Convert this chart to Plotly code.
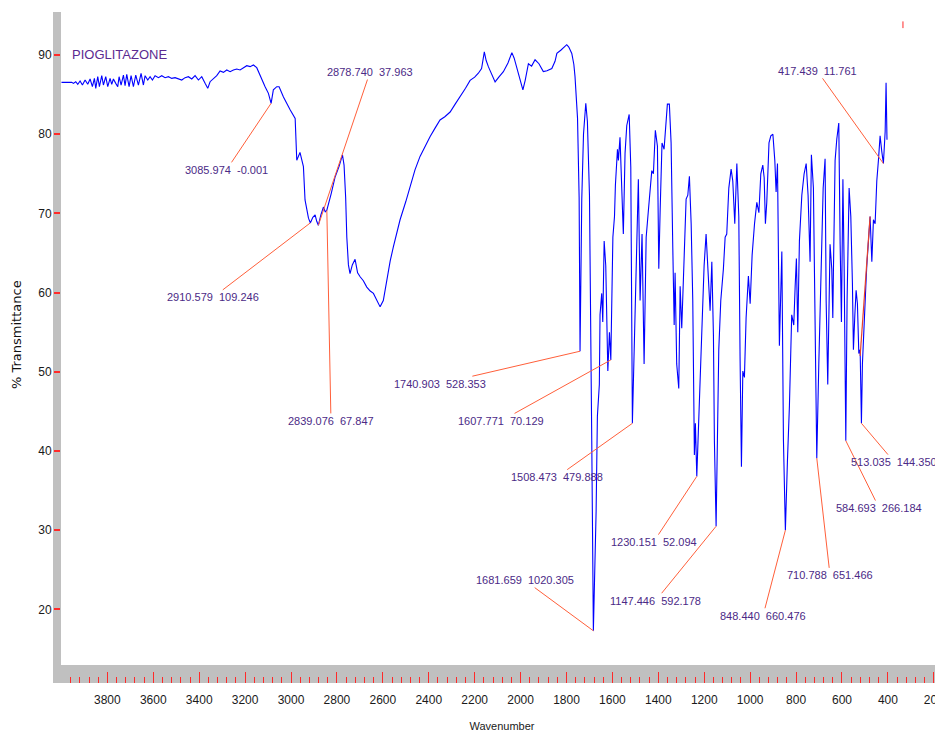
import numpy as np
import plotly.graph_objects as go

# ---------------- data ----------------
WAVENUMBER = [
    4000, 3998.8, 3955, 3948, 3937.8, 3929, 3918.9, 3908.7, 3897, 3885.5, 3875.3, 3865.2, 3856.5,
    3850.6, 3841.9, 3834.7, 3824.5, 3817.2, 3807.1, 3798.4, 3788.2, 3781, 3773.7, 3763.5, 3754.8,
    3749, 3740.3, 3730.1, 3722.9, 3715.6, 3705.4, 3696.7, 3686.6, 3676.4, 3664.8, 3653.2, 3643,
    3635.7, 3624.1, 3613.9, 3603.8, 3592.2, 3577.6, 3563.1, 3548.6, 3534.1, 3519.6, 3505, 3490.5,
    3476, 3461.5, 3447, 3432.4, 3417.9, 3403.4, 3388.9, 3374.4, 3362.7, 3352.6, 3338, 3323.5, 3309,
    3294.5, 3280, 3265.4, 3250.9, 3236.4, 3221.9, 3207.4, 3192.8, 3178.3, 3163.8, 3149.3, 3139.1,
    3127.5, 3113, 3098.5, 3086.8, 3077, 3062, 3052, 3033, 3004, 2982, 2975, 2961, 2946, 2939, 2924,
    2916, 2905, 2895, 2888, 2881, 2870, 2859, 2851, 2844, 2825, 2808, 2790, 2776, 2769, 2762, 2757,
    2750, 2743, 2733, 2721, 2710, 2699, 2685, 2670, 2655, 2641, 2625, 2612, 2598, 2583, 2568, 2554,
    2540, 2525, 2500, 2481, 2460, 2438, 2415, 2394, 2372, 2351, 2330, 2307, 2285, 2264, 2240, 2220,
    2200, 2184, 2170, 2158, 2150, 2140, 2125, 2111, 2095, 2075, 2055, 2038, 2028, 2017, 2005, 1990,
    1980, 1966, 1952, 1937, 1920, 1901, 1885, 1864, 1850, 1842, 1825, 1810, 1799, 1790, 1777, 1768,
    1763, 1752, 1745, 1741, 1737, 1733.5, 1726, 1716, 1709, 1700, 1690, 1683, 1671, 1665.5, 1657,
    1654, 1646.6, 1642, 1636, 1629, 1620, 1613, 1607, 1598, 1591, 1587, 1578, 1574, 1567, 1560,
    1552.5, 1545, 1537.5, 1527, 1520, 1513, 1505.6, 1497, 1487, 1479.5, 1471, 1462, 1453, 1443,
    1428.5, 1421.5, 1413, 1404, 1398, 1392, 1384, 1375, 1366, 1360.6, 1352, 1344.4, 1337, 1331, 1327,
    1320, 1311, 1305, 1298, 1288, 1279, 1271.6, 1264.7, 1257, 1250, 1243, 1238.6, 1232.5, 1225.6,
    1218, 1210.7, 1200.6, 1192, 1184.6, 1174.5, 1167, 1160, 1155.8, 1148.4, 1142.7, 1136.7, 1128,
    1122, 1116.6, 1109, 1102, 1093, 1083, 1075.7, 1067, 1058, 1049.5, 1044, 1038, 1032, 1025, 1017.7,
    1007.7, 1000, 991.5, 981, 971, 962, 953.6, 945, 939, 933.6, 927.6, 918, 910, 901, 892.7, 887, 881,
    872.7, 862, 855, 846.6, 837.8, 829, 819, 810, 804, 798.6, 792.6, 785.5, 775, 765, 756, 747.7, 739,
    733.3, 724.5, 717, 709.8, 701, 695.3, 689.7, 682, 673.6, 669, 662, 652, 644.5, 640, 637.4, 630,
    622.6, 614, 608, 602.5, 596, 590.7, 583.4, 577.8, 569, 561.6, 554.6, 550.2, 544, 538.5, 532.8,
    526.7, 521, 515.3, 511, 506.7, 500.6, 496.2, 492, 485, 477.6, 470, 463, 455.7, 448.4, 441.3, 434,
    426.6, 419.6, 412, 408, 404,
]
TRANSMITTANCE = [
    86.55, 86.55, 86.55, 86.42, 86.63, 86.30, 86.72, 86.21, 86.84, 86.30, 86.97, 86.00, 87.05,
    85.79, 87.26, 86.00, 87.39, 86.21, 87.26, 86.00, 87.05, 86.30, 86.97, 86.42, 86.00,
    87.26, 86.21, 87.47, 86.13, 87.56, 86.00, 87.39, 86.00, 87.47, 86.21, 87.69, 86.21,
    87.39, 86.84, 87.26, 86.84, 87.39, 87.14, 87.39, 87.14, 87.26, 87.05, 87.14, 86.97,
    86.84, 87.14, 87.26, 86.97, 87.39, 86.84, 87.26, 86.42, 85.79, 86.63, 86.97, 87.39, 87.98,
    87.81, 88.11, 87.90, 88.11, 88.23, 88.11, 88.40, 88.65, 88.53, 88.74, 88.40, 87.69,
    86.84, 86.00, 85.16, 83.9, 85.6, 86.0, 86.0, 84.7, 83.1, 82.0, 76.7, 77.7, 75.9, 71.7, 69.4,
    68.8, 69.5, 69.8, 69.0, 68.5, 69.8, 70.8, 70.2, 70.4, 72.5, 74.6, 76.0, 77.4, 76.1, 72.0, 67.0,
    63.5, 62.4, 63.5, 64.2, 62.5, 62.0, 61.5, 60.7, 60.2, 59.9, 59.0, 58.2, 59.0, 61.6, 64.0, 65.8,
    67.5, 69.2, 71.5, 73.4, 75.5, 77.2, 78.6, 79.7, 80.8, 81.8, 82.2, 82.8, 83.8, 84.7, 85.8, 86.8,
    87.2, 87.7, 88.3, 90.4, 89.3, 88.5, 87.5, 86.6, 87.2, 87.9, 89.0, 90.3, 89.6, 88.5, 87.3, 85.6,
    86.8, 88.9, 88.6, 89.4, 88.9, 87.9, 88.0, 88.3, 89.2, 90.2, 90.6, 91.0, 91.3, 91.0, 90.2, 88.8,
    87.3, 82.0, 72.0, 52.6, 62.0, 71.8, 80.0, 83.9, 81.6, 72.3, 41.3, 17.3, 32.4, 44.4, 48.4,
    57.2, 59.9, 56.3, 66.5, 63.4, 50.1, 55.0, 51.5, 67.0, 69.6, 73.6, 78.1, 76.7, 79.6, 73.2,
    67.4, 77.6, 81.1, 82.5, 75.8, 43.5, 52.8, 65.6, 74.3, 59.0, 67.4, 51.0, 67.0, 70.5,
    75.4, 75.0, 80.5, 78.5, 63.0, 70.5, 78.9, 78.1, 81.1, 83.8, 83.8, 78.9, 65.6, 55.9, 62.5,
    51.0, 47.9, 60.8, 55.5, 65.6, 71.8, 72.3, 74.7, 68.7, 59.0, 39.5, 43.5, 36.8, 42.6,
    46.6, 54.6, 63.4, 67.4, 62.5, 57.7, 63.9, 54.6, 41.3, 30.5, 41.3, 52.8, 59.0,
    61.2, 63.0, 67.0, 67.4, 73.2, 75.6, 74.1, 68.7, 76.3, 69.6, 51.9, 38.0, 50.1, 49.3, 56.8,
    62.1, 58.6, 64.7, 68.7, 71.4, 70.1, 75.0, 76.1, 74.5, 68.7, 71.4, 78.9, 79.8, 80.0, 76.7, 72.7, 76.3,
    53.3, 65.2, 41.3, 30.0, 38.6, 45.7, 57.2, 55.9, 60.8, 64.3, 55.0, 66.5, 72.3, 75.0, 76.3, 72.3, 63.9,
    77.4, 73.2, 54.6, 39.1, 51.0, 57.2, 64.3, 73.2, 76.9, 59.0, 48.4, 66.1, 63.0, 56.8, 62.5, 76.7,
    79.4, 81.4, 66.1, 56.3, 74.3, 63.4, 41.3, 59.0, 73.2, 69.6, 61.2, 52.8, 57.2, 60.3, 58.6,
    52.3, 52.8, 43.5, 51.0, 54.6, 58.1, 60.8, 63.4, 66.5, 69.6, 63.9, 69.2, 68.7, 74.1, 76.7, 79.8,
    77.8, 76.3, 80.3, 86.5, 79.3,
]

PEAK_WN = [3085.974, 2878.740, 2910.579, 2839.076, 1740.903, 1607.771, 1508.473, 1681.659,
           1230.151, 1147.446, 848.440, 710.788, 584.693, 513.035, 417.439]
PEAK_INTENSITY = ["-0.001", "37.963", "109.246", "67.847", "528.353", "70.129", "479.888", "1020.305",
                  "52.094", "592.178", "660.476", "651.466", "266.184", "144.350", "11.761"]

X_TICKS = [3800, 3600, 3400, 3200, 3000, 2800, 2600, 2400, 2200, 2000, 1800, 1600, 1400, 1200,
           1000, 800, 600, 400, 200]
X_TICK_TEXT = [str(v) for v in X_TICKS]
Y_TICKS = [20, 30, 40, 50, 60, 70, 80, 90]
Y_TICK_TEXT = [str(v) for v in Y_TICKS]

TITLE = "PIOGLITAZONE"
X_TITLE = "Wavenumber"
Y_TITLE = "% Transmittance"

# ---------------- layout (label centres, in axis units) ----------------
LABEL_POS = [(3281, 75.5), (2656, 87.85), (3340, 59.4), (2826, 43.8), (2351, 48.5),
             (2085, 43.8), (1843, 36.7), (1983, 23.7), (1421, 28.5), (1412, 21.1),
             (944, 19.2), (652, 24.3), (438, 32.8), (372, 38.6), (708, 88.0)]
# stray leader segment seen in the 520-480 cm-1 region (tail, head)
STRAY_LEADER = ((477.6, 69.6), (521.0, 52.0))

FONT = "Liberation Sans, Arial, sans-serif"
BLUE = "#0000ff"
LEADER = "#ff5f3a"
LABEL_COL = "#4b2a86"
BAND = "#c0c0c0"
TICKRED = "#ff2a2a"

wn = np.array(WAVENUMBER)
tr = np.array(TRANSMITTANCE)

fig = go.Figure()
fig.add_trace(go.Scatter(x=wn, y=tr, mode="lines", line=dict(color=BLUE, width=1.1),
                         hoverinfo="x+y", showlegend=False))

annotations = []
for p, inten, (lx, ly) in zip(PEAK_WN, PEAK_INTENSITY, LABEL_POS):
    idx = np.where(np.abs(wn - p) < 8)[0]
    i = idx[np.argmin(tr[idx])]
    annotations.append(dict(
        x=float(wn[i]), y=float(tr[i]), xref="x", yref="y",
        ax=lx, ay=ly, axref="x", ayref="y",
        text=f"{p:.3f}\u00a0\u00a0{inten}", showarrow=True, arrowhead=0,
        arrowwidth=1, arrowcolor=LEADER, standoff=0, startstandoff=0,
        font=dict(family=FONT, size=11, color=LABEL_COL)))

annotations.append(dict(x=0.0102, y=0.9374, xref="paper", yref="paper", xanchor="left",
                        yanchor="middle", text=TITLE, showarrow=False,
                        font=dict(family=FONT, size=13, color="#5b2a91")))

annotations.append(dict(x=(16 - 61) / 882, y=(683 - 335) / 671, xref="paper", yref="paper",
                        xanchor="center", yanchor="middle", text=Y_TITLE, textangle=-90,
                        showarrow=False,
                        font=dict(family="DejaVu Sans, Arial, sans-serif", size=13, color="#111")))

(sx0, sy0), (sx1, sy1) = STRAY_LEADER

# page body adds an 8 px offset, so the figure is 8 px smaller and margins are reduced by 8
fig.update_layout(
    width=935, height=724,
    margin=dict(l=53, r=0, t=4, b=49),
    paper_bgcolor="white", plot_bgcolor="white",
    annotations=annotations,
    shapes=[
        dict(type="rect", xref="paper", yref="paper", x0=-8 / 882, x1=0, y0=0, y1=1,
             fillcolor=BAND, line_width=0, layer="below"),
        dict(type="rect", xref="paper", yref="paper", x0=-8 / 882, x1=1.01, y0=0, y1=18 / 671,
             fillcolor=BAND, line_width=0, layer="below"),
        dict(type="line", xref="paper", yref="paper", x0=0.9546, x1=0.9546, y0=0.976, y1=0.986,
             line=dict(color=TICKRED, width=1)),
        dict(type="line", xref="x", yref="y", x0=sx0, y0=sy0, x1=sx1, y1=sy1,
             line=dict(color="#e8402a", width=1.2)),
    ],
    xaxis=dict(range=[4002, 160], showgrid=False, zeroline=False, showline=False,
               automargin=False,
               tickmode="array", tickvals=X_TICKS, ticktext=X_TICK_TEXT,
               ticks="inside", ticklen=11, tickwidth=1, tickcolor=TICKRED,
               minor=dict(tickmode="linear", tick0=0, dtick=40, ticks="inside", ticklen=6,
                          tickwidth=1, tickcolor=TICKRED),
               ticklabelstandoff=8, ticklabeloverflow="allow",
               tickfont=dict(family=FONT, size=12, color="#1a1a1a"),
               title=dict(text=X_TITLE, standoff=16, font=dict(family=FONT, size=11, color="#1a1a1a"))),
    yaxis=dict(range=[10.71, 95.43], showgrid=False, zeroline=False, showline=False,
               automargin=False,
               tickmode="array", tickvals=Y_TICKS, ticktext=Y_TICK_TEXT,
               ticks="outside", ticklen=6, tickwidth=1.5, tickcolor=TICKRED,
               tickfont=dict(family=FONT, size=12, color="#1a1a1a")),
)

fig.write_html("out.html")
